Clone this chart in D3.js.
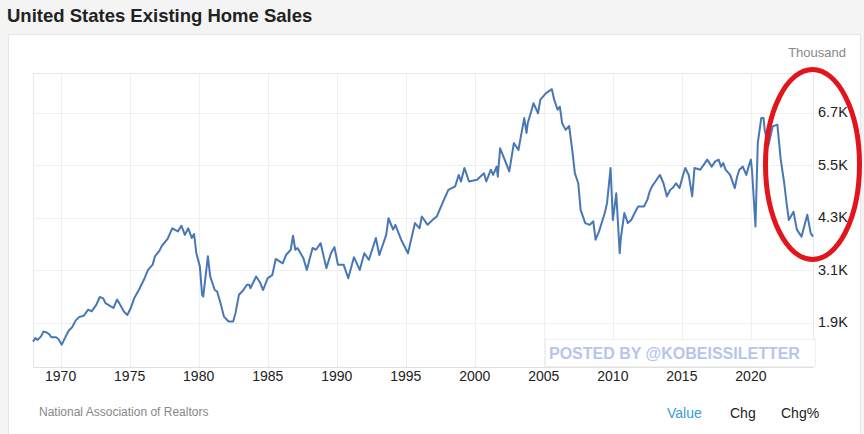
<!DOCTYPE html>
<html lang="en">
<head>
    <meta charset="UTF-8">
    <title>United States Existing Home Sales</title>
    <style>
        body { margin: 0; background: #f4f4f4; font-family: Arial, "Liberation Sans", sans-serif; }
        .grid line { stroke: #efefef; stroke-width: 1px; }
        .tick-x { font-size: 14px; fill: #222; text-anchor: middle; }
        .tick-y { font-size: 14.5px; fill: #222; }
    </style>
</head>
<body>
    <svg width="864" height="434"></svg>

    <script src="https://d3js.org/d3.v7.min.js"></script>
    <script>
        // Existing home sales, thousands (monthly readings)
        const months = [
            "1968-01","1968-03","1968-05","1968-08","1968-10","1969-01","1969-03","1969-05","1969-09","1969-11",
            "1970-02","1970-04","1970-08","1970-11","1971-02","1971-05","1971-09","1972-01","1972-04","1972-08",
            "1972-11","1973-02","1973-04","1973-09","1973-11","1974-02","1974-04","1974-08","1974-11","1975-02",
            "1975-05","1975-09","1976-02","1976-05","1976-09","1976-11","1977-03","1977-05","1977-10","1978-02",
            "1978-07","1978-10","1979-01","1979-04","1979-07","1979-09","1979-11","1980-02","1980-04","1980-05",
            "1980-09","1980-11","1981-03","1981-05","1981-08","1981-11","1982-03","1982-07","1982-09","1982-12",
            "1983-03","1983-07","1983-09","1983-10","1984-03","1984-06","1984-09","1985-01","1985-05","1985-08",
            "1986-02","1986-05","1986-09","1986-11","1987-01","1987-03","1987-08","1987-11","1988-04","1988-07",
            "1988-11","1989-04","1989-08","1989-11","1990-02","1990-07","1990-11","1991-04","1991-09","1992-01",
            "1992-05","1992-11","1993-02","1993-08","1993-10","1994-02","1994-04","1994-09","1995-03","1995-09",
            "1996-01","1996-03","1996-08","1997-01","1997-04","1997-09","1998-02","1998-08","1998-11","1999-01",
            "1999-04","1999-08","2000-03","2000-09","2000-11","2001-03","2001-05","2001-08","2001-09","2001-11",
            "2002-03","2002-07","2002-11","2003-03","2003-08","2003-10","2003-11","2004-02","2004-04","2004-08",
            "2004-10","2005-03","2005-08","2005-10","2006-01","2006-03","2006-05","2006-08","2006-11","2007-02",
            "2007-04","2007-07","2007-09","2008-01","2008-05","2008-08","2008-10","2009-01","2009-06","2009-08",
            "2009-11","2010-01","2010-04","2010-07","2010-08","2010-11","2011-02","2011-05","2011-08","2011-11",
            "2012-04","2012-07","2012-09","2012-11","2013-02","2013-04","2013-06","2013-09","2013-12","2014-03",
            "2014-05","2014-08","2014-11","2015-02","2015-04","2015-07","2015-10","2015-12","2016-05","2016-08",
            "2016-11","2017-03","2017-06","2017-09","2017-11","2018-01","2018-03","2018-07","2018-11","2019-01",
            "2019-03","2019-06","2019-09","2019-11","2020-01","2020-02","2020-05","2020-07","2020-10","2020-12",
            "2021-01","2021-04","2021-08","2021-12","2022-03","2022-06","2022-08","2022-10","2023-02","2023-05",
            "2023-09","2024-02","2024-05","2024-07"
        ];
        const sales = [
            1470,1550,1510,1590,1700,1680,1640,1570,1570,1530,
            1400,1510,1720,1800,1950,2030,2060,2200,2160,2310,
            2490,2460,2350,2270,2240,2430,2350,2160,2080,2240,
            2460,2650,2920,3110,3230,3420,3550,3660,3820,4060,
            3990,4120,3910,4060,3840,3930,3490,3190,2540,2500,
            3420,2960,2650,2620,2350,2040,1930,1930,2120,2540,
            2620,2770,2770,2690,2960,2840,2650,2920,2990,3360,
            3260,3450,3570,3890,3570,3610,3380,3110,3610,3570,
            3720,3150,3490,3630,3230,3230,2920,3400,3110,3490,
            3340,3840,3450,3910,4290,4030,4140,3800,3490,4180,
            4060,4330,4140,4270,4330,4640,4940,5020,5280,5130,
            5440,5130,5170,5320,5130,5400,5280,5470,5240,5890,
            5630,5360,6010,5850,6580,6240,6460,6730,6920,6690,
            7000,7150,7240,7000,6770,6840,6460,6310,6400,5780,
            5320,5090,4480,4180,4140,4220,3800,3990,4410,4640,
            5440,4250,4860,3490,3840,4410,4180,4250,4410,4560,
            4560,4710,4900,5020,5130,5210,5280,5090,4790,4940,
            4980,5090,4980,5280,5440,5280,4790,5440,5400,5510,
            5630,5470,5590,5630,5470,5550,5400,5280,4980,5240,
            5400,5470,5280,5470,5630,5360,4100,6010,6580,6580,
            6310,5930,6390,6430,5630,5090,4640,4250,4440,4030,
            3870,4370,3950,3870
        ];
        const yTicks = [1900, 3100, 4300, 5500, 6700];
        const xTicks = [1970, 1975, 1980, 1985, 1990, 1995, 2000, 2005, 2010, 2015, 2020];

        const parse = d3.timeParse("%Y-%m");
        const data = months.map((m, i) => ({ date: parse(m), value: sales[i] }));

        const svg = d3.select("svg");
        const plotL = 33, plotR = 813, plotT = 73, plotB = 367;

        // page + panel
        svg.append("rect").attr("width", 864).attr("height", 434).attr("fill", "#f4f4f4");
        svg.append("rect")
            .attr("x", 8.5).attr("y", 34.5).attr("width", 852).attr("height", 410)
            .attr("fill", "#fff").attr("stroke", "#e6e6e6");

        svg.append("text")
            .attr("x", 7).attr("y", 22)
            .style("font-size", "18.5px").style("font-weight", "bold").style("fill", "#222")
            .text("United States Existing Home Sales");

        const x = d3.scaleTime()
            .domain(d3.extent(data, d => d.date))
            .range([plotL, plotR]);

        const y = d3.scaleLinear()
            .domain([890, 7610])
            .range([plotB, plotT]);

        // grid
        const grid = svg.append("g").attr("class", "grid");
        grid.selectAll(".gx")
            .data(xTicks)
            .enter().append("line")
            .attr("x1", d => Math.round(x(new Date(d, 0, 1))) + 0.5)
            .attr("x2", d => Math.round(x(new Date(d, 0, 1))) + 0.5)
            .attr("y1", plotT).attr("y2", plotB);
        grid.selectAll(".gy")
            .data(yTicks)
            .enter().append("line")
            .attr("x1", plotL).attr("x2", plotR)
            .attr("y1", d => Math.round(y(d)) + 0.5)
            .attr("y2", d => Math.round(y(d)) + 0.5);

        // frame
        svg.append("rect")
            .attr("x", plotL + 0.5).attr("y", plotT + 0.5)
            .attr("width", plotR - plotL).attr("height", plotB - plotT)
            .attr("fill", "none").attr("stroke", "#e8e8e8");
        svg.append("line")
            .attr("x1", plotL).attr("x2", plotR)
            .attr("y1", plotB + 0.5).attr("y2", plotB + 0.5)
            .attr("stroke", "#e0e0e0");

        // tick labels
        svg.selectAll(".tick-x")
            .data(xTicks)
            .enter().append("text")
            .attr("class", "tick-x")
            .attr("x", d => x(new Date(d, 0, 1)))
            .attr("y", 381)
            .text(d => d);

        svg.selectAll(".tick-y")
            .data(yTicks)
            .enter().append("text")
            .attr("class", "tick-y")
            .attr("x", 818)
            .attr("y", d => y(d) + 4.5)
            .text(d => (d / 1000).toFixed(1) + "K");

        svg.append("text")
            .attr("x", 846).attr("y", 56.5)
            .attr("text-anchor", "end")
            .style("font-size", "13px").style("fill", "#888")
            .text("Thousand");

        // watermark
        svg.append("rect")
            .attr("x", 545.5).attr("y", 339.5).attr("width", 270).attr("height", 27)
            .attr("fill", "#fff").attr("fill-opacity", 0.85).attr("stroke", "#f1f1f1");
        svg.append("text")
            .attr("x", 549).attr("y", 358.5)
            .style("font-size", "16px").style("font-weight", "bold").style("fill", "#b6c5ee")
            .text("POSTED BY @KOBEISSILETTER");

        // the series
        const line = d3.line()
            .x(d => x(d.date))
            .y(d => y(d.value));

        svg.append("path")
            .datum(data)
            .attr("fill", "none")
            .attr("stroke", "#4877b5")
            .attr("stroke-width", 2)
            .attr("stroke-linejoin", "round")
            .attr("d", line);

        // footer
        svg.append("text")
            .attr("x", 39).attr("y", 416)
            .style("font-size", "12px").style("fill", "#888")
            .text("National Association of Realtors");

        const tabs = [{ t: "Value", x: 667, c: "#3d9ad6" }, { t: "Chg", x: 730, c: "#222" }, { t: "Chg%", x: 781, c: "#222" }];
        svg.selectAll(".tab")
            .data(tabs)
            .enter().append("text")
            .attr("x", d => d.x).attr("y", 418)
            .style("font-size", "14px").style("fill", d => d.c)
            .text(d => d.t);

        // red annotation ring
        svg.append("ellipse")
            .attr("cx", 812.5).attr("cy", 164.5)
            .attr("rx", 47).attr("ry", 95)
            .attr("fill", "none")
            .attr("stroke", "#e3151c")
            .attr("stroke-width", 5);
    </script>
</body>
</html>
